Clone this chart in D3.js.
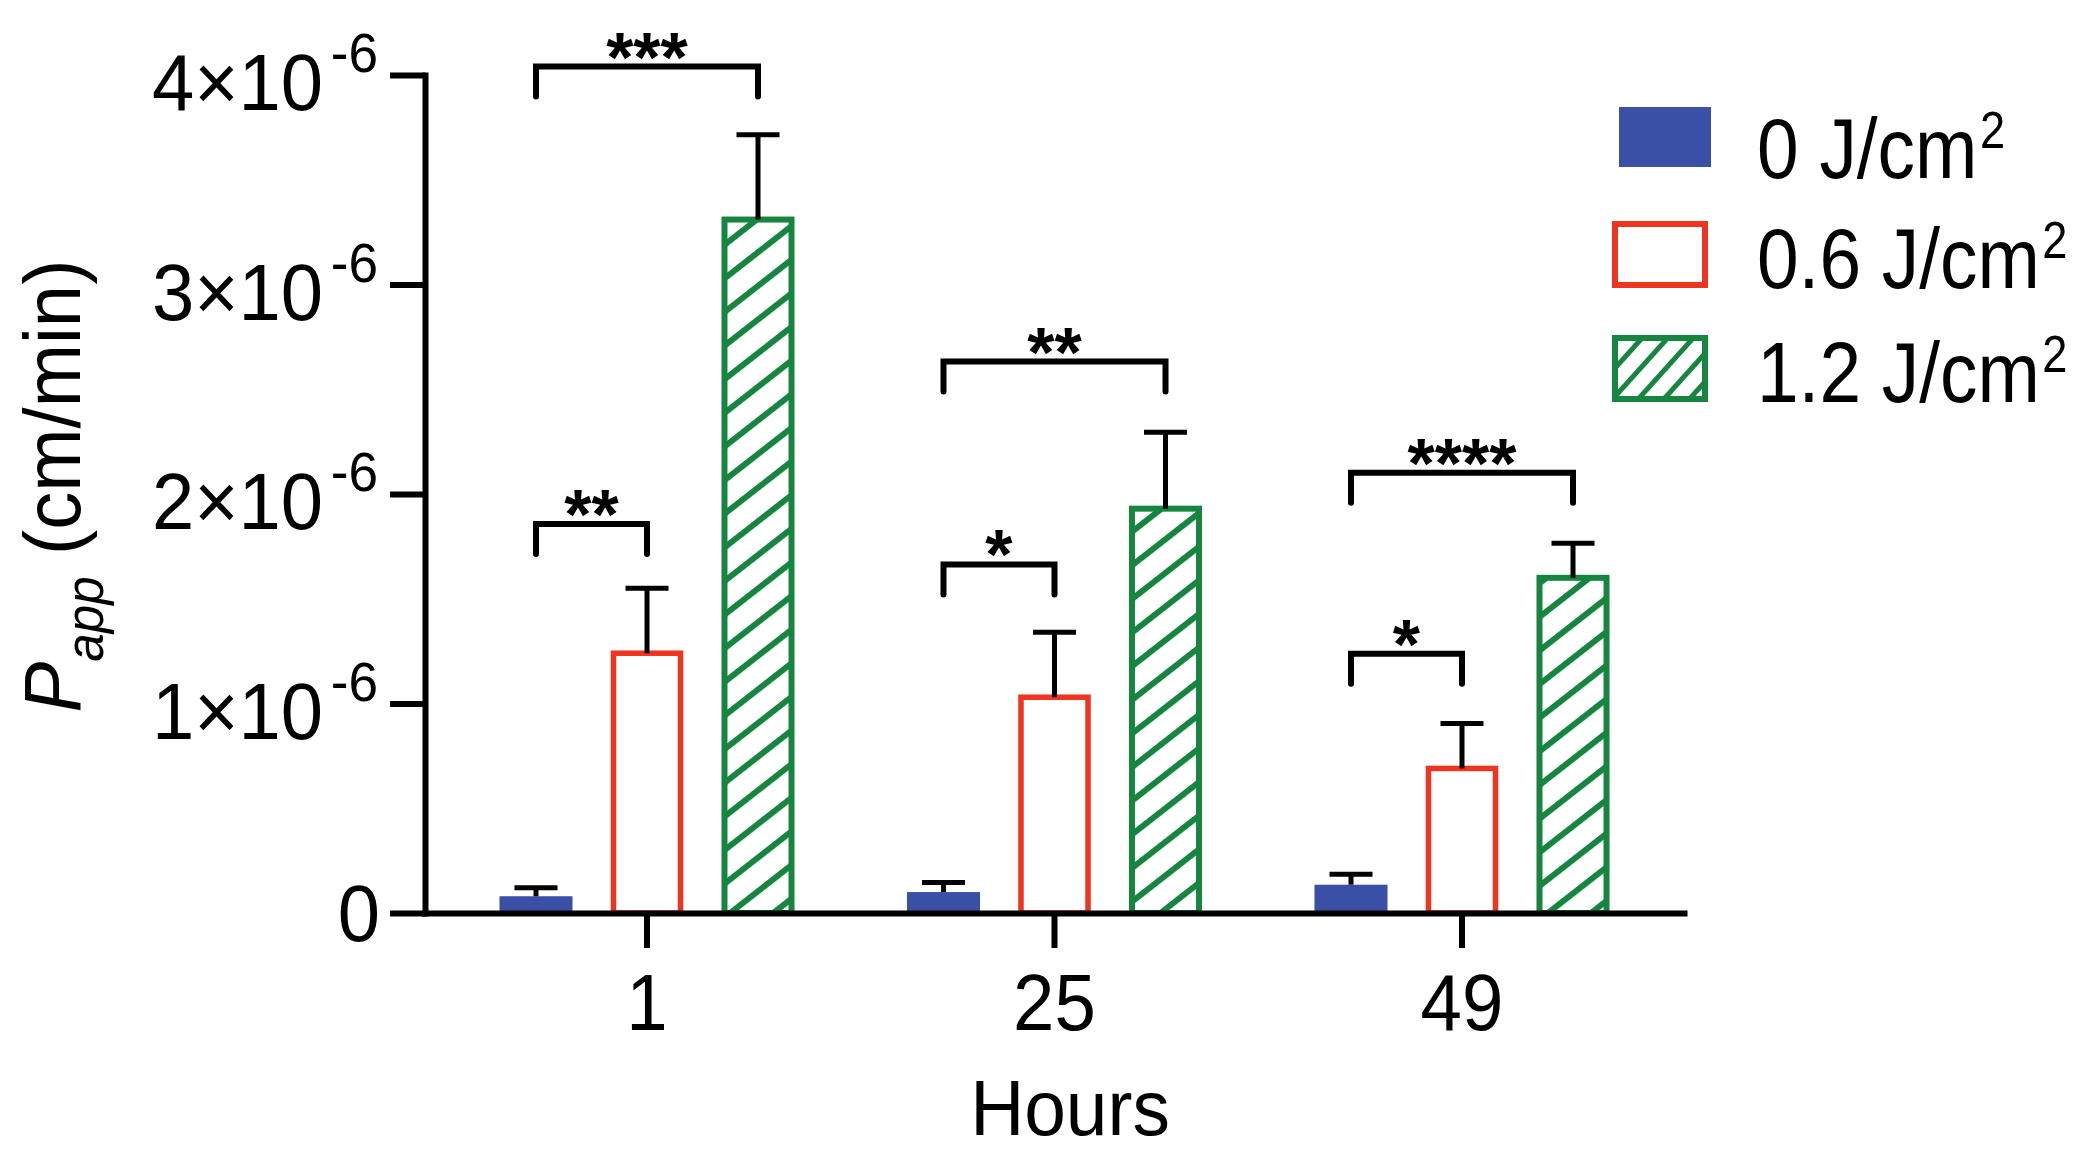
<!DOCTYPE html>
<html><head><meta charset="utf-8">
<script src="https://cdn.jsdelivr.net/npm/d3@7"></script>
<style>
body{margin:0;background:#fff}
svg{display:block}
text{font-family:"Liberation Sans",Arial,Helvetica,sans-serif;fill:#000}
</style>
</head><body>
<svg id="chart" width="2100" height="1152"></svg>
<script>
// ---------- data ----------
const categories = ["1", "25", "49"];
const seriesNames = ["0 J/cm", "0.6 J/cm", "1.2 J/cm"];
const seriesSup = ["2", "2", "2"];
const means0  = [0.08e-6, 0.10e-6, 0.135e-6];
const means06 = [1.24e-6, 1.03e-6, 0.69e-6];
const means12 = [3.31e-6, 1.93e-6, 1.60e-6];
const sem0  = [0.04e-6, 0.045e-6, 0.05e-6];
const sem06 = [0.31e-6, 0.31e-6, 0.215e-6];
const sem12 = [0.405e-6, 0.365e-6, 0.165e-6];
const yTicks = [0, 1e-6, 2e-6, 3e-6, 4e-6];
const yTickMantissa = ["0", "1×10", "2×10", "3×10", "4×10"];
const yTickExponent = ["", "-6", "-6", "-6", "-6"];
const sigCategory = ["1", "1", "25", "25", "49", "49"];
const sigFrom = [0, 0, 0, 0, 0, 0];
const sigTo = [2, 1, 2, 1, 2, 1];
const sigHeight = [4.04e-6, 1.857e-6, 2.632e-6, 1.664e-6, 2.102e-6, 1.238e-6];
const sigLabel = ["***", "**", "**", "*", "****", "*"];
const xTitle = "Hours";

const means = [means0, means06, means12];
const sems = [sem0, sem06, sem12];

// ---------- style ----------
const BLUE = "#3a4fa6", RED = "#ef3420", GREEN = "#16853f";
const svg = d3.select("#chart");
const L = 425, R = 1684, T = 75, B = 913;

const defs = svg.append("defs");
function hatch(id, angle, period, thick) {
  const p = defs.append("pattern").attr("id", id)
    .attr("patternUnits", "userSpaceOnUse")
    .attr("width", 10).attr("height", period)
    .attr("patternTransform", `rotate(${angle})`);
  p.append("rect").attr("width", 10).attr("height", period).attr("fill", "#fff");
  p.append("rect").attr("width", 10).attr("height", thick).attr("fill", GREEN);
}
hatch("hatchBar", -38, 26.5, 6);
hatch("hatchLegend", -48, 19, 5);

// ---------- scales ----------
const x0 = d3.scaleBand().domain(categories).range([L, R]).paddingInner(0).paddingOuter(0.0448);
const x1 = d3.scaleBand().domain([0, 1, 2]).range([0, x0.bandwidth()]).paddingInner(0.342).paddingOuter(0.5065);
const y = d3.scaleLinear().domain([0, 4e-6]).range([B, T]);
const cx = (c, s) => x0(c) + x1(s) + x1.bandwidth() / 2;

// ---------- bars ----------
const barData = [];
categories.forEach((c, j) => [0, 1, 2].forEach(s => barData.push({c, s, v: means[s][j], e: sems[s][j]})));

const bw = x1.bandwidth();
svg.append("g").selectAll("rect").data(barData).join("rect")
  .attr("x", d => d.s === 0 ? x0(d.c) + x1(d.s) : x0(d.c) + x1(d.s) + 3)
  .attr("width", d => d.s === 0 ? bw : bw - 6)
  .attr("y", d => y(d.v))
  .attr("height", d => B - y(d.v))
  .attr("fill", d => d.s === 0 ? BLUE : d.s === 1 ? "#fff" : "url(#hatchBar)")
  .attr("stroke", d => d.s === 0 ? "none" : d.s === 1 ? RED : GREEN)
  .attr("stroke-width", d => d.s === 1 ? 5.5 : 6);

// ---------- error bars ----------
const eg = svg.append("g").attr("stroke", "#000").attr("stroke-width", 5).attr("fill", "none");
eg.selectAll("line.stem").data(barData).join("line").attr("class", "stem")
  .attr("x1", d => cx(d.c, d.s)).attr("x2", d => cx(d.c, d.s))
  .attr("y1", d => y(d.v)).attr("y2", d => y(d.v + d.e));
eg.selectAll("line.cap").data(barData).join("line").attr("class", "cap")
  .attr("x1", d => cx(d.c, d.s) - 21.5).attr("x2", d => cx(d.c, d.s) + 21.5)
  .attr("y1", d => y(d.v + d.e)).attr("y2", d => y(d.v + d.e));

// ---------- axes ----------
const yAxis = svg.append("g").attr("transform", `translate(${L},0)`)
  .call(d3.axisLeft(y).tickValues(yTicks).tickSize(35).tickSizeOuter(0).tickFormat(""));
const xAxis = svg.append("g").attr("transform", `translate(0,${B})`)
  .call(d3.axisBottom(x0).tickSize(35).tickSizeOuter(0).tickFormat(""));
[yAxis, xAxis].forEach(a => {
  a.selectAll("path.domain").attr("stroke", "#000").attr("stroke-width", 6).attr("stroke-linecap", "square");
  a.selectAll(".tick line").attr("stroke", "#000").attr("stroke-width", 6);
});

// y tick labels
yTicks.forEach((t, i) => {
  const hasExp = yTickExponent[i] !== "";
  const g = svg.append("g").attr("transform", `translate(${hasExp ? 378 : 380},${y(t) + (hasExp ? 35 : 28)}) scale(0.95,1)`);
  const tx = g.append("text").attr("text-anchor", "end").attr("font-size", 80);
  tx.append("tspan").text(yTickMantissa[i]);
  if (hasExp) tx.append("tspan").attr("font-size", 56).attr("dy", -38).attr("dx", 8).text(yTickExponent[i]);
});

// x tick labels
categories.forEach(c => {
  svg.append("g").attr("transform", `translate(${x0(c) + x0.bandwidth() / 2},1030) scale(0.93,1)`)
    .append("text").attr("text-anchor", "middle").attr("font-size", 80).text(c);
});

// x title
svg.append("g").attr("transform", `translate(1070,1135) scale(0.96,1)`)
  .append("text").attr("text-anchor", "middle").attr("font-size", 78).text(xTitle);

// y title
const yt = svg.append("g").attr("transform", `translate(80,486) rotate(-90) scale(0.95,1)`)
  .append("text").attr("text-anchor", "middle").attr("font-size", 80);
yt.append("tspan").attr("font-style", "italic").text("P");
yt.append("tspan").attr("font-style", "italic").attr("font-size", 54).attr("dy", 23).text("app");
yt.append("tspan").attr("dy", -23).text(" (cm/min)");

// ---------- significance brackets ----------
const sg = svg.append("g");
sigLabel.forEach((lab, i) => {
  const c = sigCategory[i];
  const xa = cx(c, sigFrom[i]), xb = cx(c, sigTo[i]);
  const yb = y(sigHeight[i]);
  sg.append("path")
    .attr("d", `M${xa},${yb + 30}V${yb}H${xb}V${yb + 30}`)
    .attr("fill", "none").attr("stroke", "#000").attr("stroke-width", 6)
    .attr("stroke-linecap", "round").attr("stroke-linejoin", "miter");
  sg.append("text").attr("x", (xa + xb) / 2).attr("y", yb + 15)
    .attr("text-anchor", "middle").attr("font-size", 70).attr("font-weight", "bold").text(lab);
});

// ---------- legend ----------
const lg = svg.append("g");
seriesNames.forEach((name, i) => {
  const rowY = 107 + i * 114;
  if (i === 0) {
    lg.append("rect").attr("x", 1619).attr("y", rowY).attr("width", 92).attr("height", 60).attr("fill", BLUE);
  } else {
    lg.append("rect").attr("x", 1615).attr("y", rowY + 3).attr("width", 90).attr("height", 61)
      .attr("fill", i === 1 ? "#fff" : "url(#hatchLegend)")
      .attr("stroke", i === 1 ? RED : GREEN).attr("stroke-width", 6);
  }
  const t = lg.append("g").attr("transform", `translate(1757,${rowY + 67 + (i === 0 ? 4 : 0)}) scale(0.87,1)`)
    .append("text").attr("font-size", 86);
  t.append("tspan").text(name);
  t.append("tspan").attr("font-size", 52).attr("dy", -30).attr("dx", 3).text(seriesSup[i]);
});
</script>
</body></html>
